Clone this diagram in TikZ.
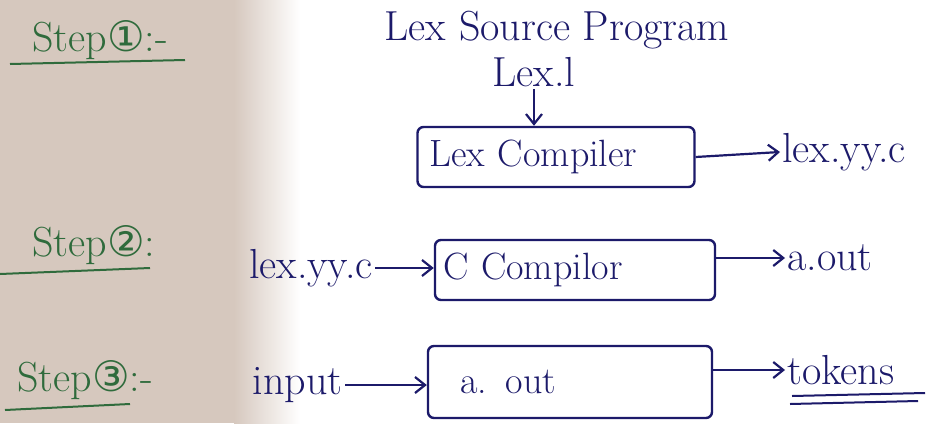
\documentclass[tikz,border=0pt]{standalone}
\usepackage{fontspec}
\newfontfamily\symf{DejaVu Sans}
\usetikzlibrary{arrows.meta}
\definecolor{ink}{HTML}{1C1A6A}
\definecolor{greenink}{HTML}{2F6B3C}
\definecolor{paper}{HTML}{D6C8BE}
\tikzset{
  txt/.style={text=ink, inner sep=1pt, font=\fontsize{21}{24}\selectfont},
  steplabel/.style={text=greenink, inner sep=1pt, font=\fontsize{21}{24}\selectfont},
  procbox/.style={draw=ink, line width=1.2pt, rounded corners=3pt, text=ink,
    font=\fontsize{19}{22}\selectfont, align=left, inner ysep=0pt},
  flow/.style={draw=ink, line width=1.1pt, -{Straight Barb[length=5pt,width=8pt]}},
  uline/.style={draw=greenink, line width=1pt}
}
\begin{document}
\begin{tikzpicture}[x=0.5pt,y=-0.5pt]
  \useasboundingbox (0,0) rectangle (947,423);
  % paper background with the shadowed strip on the left
  \fill[white] (0,0) rectangle (947,423);
  \fill[paper] (0,0) rectangle (235,423);
  \shade[left color=paper, right color=white] (234,0) rectangle (300,423);

  % step 1
  \node[steplabel, anchor=west] (s1) at (30,40) {Step{\symf ①}:-};
  \draw[uline] (10,64) -- (185,60);
  \node[txt] (src) at (557,30) {Lex Source Program};
  \node[txt] (lexl) at (534,72) {Lex.l};
  \node[procbox, text width=126.5pt, inner xsep=6pt, minimum height=30pt] (lexc) at (556,157) {Lex Compiler};
  \node[txt, anchor=west] (out1) at (780,152) {lex.yy.c};
  \draw[flow] (lexl.south) -- (lexl.south |- lexc.north);
  \draw[flow] (lexc.east) -- (out1.west);

  % step 2
  \node[steplabel, anchor=west] (s2) at (30,245) {Step{\symf ②}:};
  \draw[uline] (0,274) -- (150,268);
  \node[txt, anchor=east] (in2) at (375,268) {lex.yy.c};
  \node[procbox, text width=132pt, inner xsep=4pt, minimum height=30pt] (ccomp) at (575,270) {C Compilor};
  \node[txt, anchor=west] (out2) at (785,258) {a.out};
  \draw[flow] (in2.east) -- (in2.east -| ccomp.west);
  \draw[flow] (ccomp.east |- out2.west) -- (out2.west);

  % step 3
  \node[steplabel, anchor=west] (s3) at (15,380) {Step{\symf ③}:-};
  \draw[uline] (5,410) -- (130,404);
  \node[txt, anchor=east] (in3) at (345,385) {input};
  \node[procbox, text width=110pt, inner xsep=16pt, minimum height=36pt] (aout) at (570,382) {a. out};
  \node[txt, anchor=west] (out3) at (785,370) {tokens};
  \draw[flow] (in3.east) -- (in3.east -| aout.west);
  \draw[flow] (aout.east |- out3.west) -- (out3.west);
  \draw[ink, line width=1pt] (792,396) -- (925,393);
  \draw[ink, line width=1pt] (790,404) -- (918,401);
\end{tikzpicture}
\end{document}
